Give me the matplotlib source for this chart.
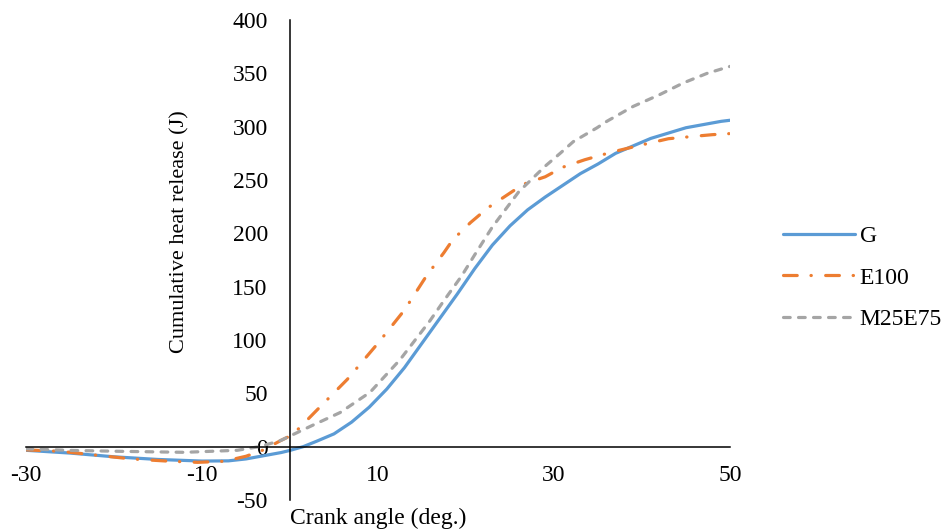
import matplotlib
matplotlib.use('Agg')
import matplotlib.pyplot as plt

plt.rcParams['font.family'] = ['Liberation Serif', 'DejaVu Serif']
plt.rcParams['axes.unicode_minus'] = False

# crank angle (deg.) / cumulative heat release (J)
g_x = [-30, -25, -20, -15, -10, -7, -5, -3, -1, 0, 1.5, 3, 5, 7, 9, 11, 13, 15, 17, 19,
       21, 23, 25, 27, 29, 31, 33, 35, 37, 39, 41, 43, 45, 47, 49, 50]
g_y = [-3.4, -6, -9.5, -12, -13.5, -13.3, -11.5, -8.5, -5.5, -3.5, 0, 5, 12, 23, 37, 54, 74, 97, 120, 143,
       167, 189, 207, 222, 234, 245, 256, 265, 275, 282, 289, 294, 299, 302, 305, 306]

e_x = [-30, -26, -22, -18, -14, -10.5, -7.5, -5, -3, -1, 0, 1, 3.5, 6.5, 10, 13, 15.5, 17.5, 18.5,
       20.5, 22.5, 24.5, 26.5, 29, 31, 33.5, 36.5, 39.5, 43, 46, 48, 50]
e_y = [-3, -4.4, -8, -11.5, -13.5, -14.7, -13.7, -9, -3, 6, 10, 17, 38, 63, 97, 128, 160, 182, 194,
       210, 224, 235, 246, 253, 262, 269, 276, 282, 288.7, 291, 292.5, 293.5]

m_x = [-30, -25, -19, -12, -6, -3.5, -2, -1, 0, 2.3, 5.7, 9.1, 12.5, 15.9, 17.5, 19.5, 21, 23, 26,
       29, 30.7, 32.2, 34.9, 36, 39, 42, 44.7, 47.4, 50]
m_y = [-2, -3.5, -4.4, -5.3, -3.4, 0, 3.5, 6, 10, 19, 32, 51, 81.5, 118, 137, 160, 180, 206, 239,
       263, 275, 286, 299, 305, 319, 330, 341, 350, 356.5]

labels = ['G', 'E100', 'M25E75']
colors = ['#5B9BD5', '#ED7D31', '#A5A5A5']

fig = plt.figure(figsize=(9.44, 5.31), dpi=100)
ax = fig.add_axes([26 / 944, 31 / 531, 704 / 944, 480 / 531])

ax.plot(g_x, g_y, color=colors[0], lw=2.3, label=labels[0], solid_capstyle='round')
ax.plot(e_x, e_y, color=colors[1], lw=2.3, label=labels[1],
        dashes=(4.3, 4.3, 0.1, 4.5), dash_capstyle='round')
ax.plot(m_x, m_y, color=colors[2], lw=2.3, label=labels[2],
        dashes=(2.1, 2.6), dash_capstyle='round')

ax.set_xlim(-30, 50)
ax.set_ylim(-50, 400)
ax.set_xticks([-30, -10, 10, 30, 50])
ax.set_yticks(range(-50, 401, 50))

ax.spines['left'].set_position(('data', 0))
ax.spines['bottom'].set_position(('data', 0))
ax.spines['right'].set_visible(False)
ax.spines['top'].set_visible(False)
for s in ['left', 'bottom']:
    ax.spines[s].set_linewidth(1.1)

fs = 17
ax.tick_params(axis='x', length=0, pad=13, labelsize=fs)
ax.tick_params(axis='y', length=0, pad=16, labelsize=fs)

fig.text(290 / 944, 1 - 518 / 531, 'Crank angle (deg.)', fontsize=fs, ha='left', va='center')
fig.text(180 / 944, 1 - 232 / 531, 'Cumulative heat release (J)', fontsize=16,
         rotation=90, ha='center', va='center')

fig.legend(loc='center left', bbox_to_anchor=(783 / 944, 1 - 278 / 531), frameon=False,
           fontsize=fs, handlelength=3.05, handletextpad=0.2, labelspacing=0.85,
           borderpad=0, borderaxespad=0)

fig.savefig('out.png', dpi=100)
